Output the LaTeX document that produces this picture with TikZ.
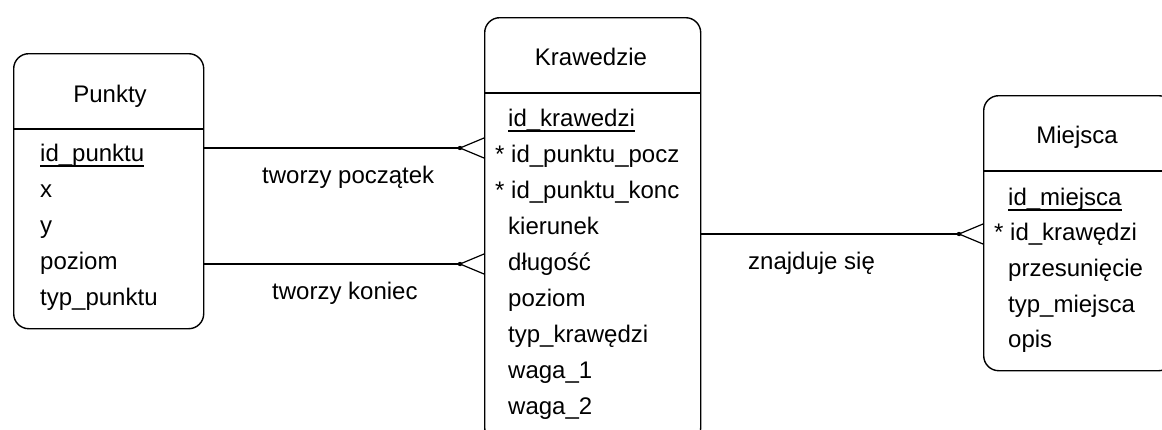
\documentclass[tikz,border=0pt]{standalone}
\usepackage{fontspec}
\setmainfont{Liberation Sans}
\usetikzlibrary{calc}
\tikzset{
  entity/.style={draw, line width=1.4pt, rounded corners=15pt, inner sep=0pt, anchor=north west},
  attr/.style={anchor=base west, inner sep=0pt, font=\fontsize{24}{28}\selectfont},
  ttl/.style={anchor=base, inner sep=0pt, font=\fontsize{24}{28}\selectfont},
  rel/.style={line width=1.4pt},
  crow/.style={line width=1.2pt}
}
\newcommand{\keyattr}[1]{\setbox0\hbox{#1}\rlap{\rule[-5.5pt]{\wd0}{1.2pt}}\box0}
\newcommand{\crowfoot}[1]{%
  \draw[crow] ($(#1)+(-24,0)$) -- ($(#1)+(0,-10)$);
  \draw[crow] ($(#1)+(-24,0)$) -- ($(#1)+(0,10)$);
  \fill ($(#1)+(-24,0)$) circle (2.2pt);
}
\begin{document}
\begin{tikzpicture}[x=1pt,y=-1pt]
\clip (0,0) rectangle (1162,429);
\fill[white] (0,0) rectangle (1162,429);

% Punkty
\node[entity, minimum width=190pt, minimum height=275pt] (punkty) at (13,53) {};
\draw[rel] (punkty.west |- 0,129) -- (punkty.east |- 0,129);
\node[ttl] (punktyT) at (110,102) {Punkty};
\node[attr] (p1) at (40,161) {\keyattr{id\_punktu}};
\node[attr] (p2) at (40,197) {x};
\node[attr] (p3) at (40,233) {y};
\node[attr] (p4) at (40,269) {poziom};
\node[attr] (p5) at (40,305) {typ\_punktu};

% Krawedzie
\node[entity, minimum width=216pt, minimum height=425pt] (kraw) at (484,17) {};
\draw[rel] (kraw.west |- 0,93) -- (kraw.east |- 0,93);
\node[ttl] (krawT) at (591,65) {Krawedzie};
\node[attr] (k1) at (508,126) {\keyattr{id\_krawedzi}};
\node[attr] (k2) at (495,162) {* id\_punktu\_pocz};
\node[attr] (k3) at (495,198) {* id\_punktu\_konc};
\node[attr] (k4) at (508,234) {kierunek};
\node[attr] (k5) at (508,270) {długość};
\node[attr] (k6) at (508,306) {poziom};
\node[attr] (k7) at (508,342) {typ\_krawędzi};
\node[attr] (k8) at (508,378) {waga\_1};
\node[attr] (k9) at (508,414) {waga\_2};

% Miejsca
\node[entity, minimum width=190pt, minimum height=275pt] (miej) at (983,95) {};
\draw[rel] (miej.west |- 0,171) -- (miej.east |- 0,171);
\node[ttl] (miejT) at (1077,143) {Miejsca};
\node[attr] (m1) at (1008,205) {\keyattr{id\_miejsca}};
\node[attr] (m2) at (994,240) {* id\_krawędzi};
\node[attr] (m3) at (1008,276) {przesunięcie};
\node[attr] (m4) at (1008,312) {typ\_miejsca};
\node[attr] (m5) at (1008,347) {opis};

% relationships
\coordinate (e1) at (kraw.west |- 0,148);
\coordinate (e2) at (kraw.west |- 0,264);
\coordinate (e3) at (miej.west |- 0,234);
\draw[rel] (punkty.east |- e1) -- ($(e1)+(-24,0)$);
\crowfoot{e1}
\draw[rel] (punkty.east |- e2) -- ($(e2)+(-24,0)$);
\crowfoot{e2}
\draw[rel] (kraw.east |- e3) -- ($(e3)+(-24,0)$);
\crowfoot{e3}

\node[attr] (l1) at (262,183) {tworzy początek};
\node[attr] (l2) at (272,299) {tworzy koniec};
\node[attr] (l3) at (748,269) {znajduje się};
\end{tikzpicture}
\end{document}
